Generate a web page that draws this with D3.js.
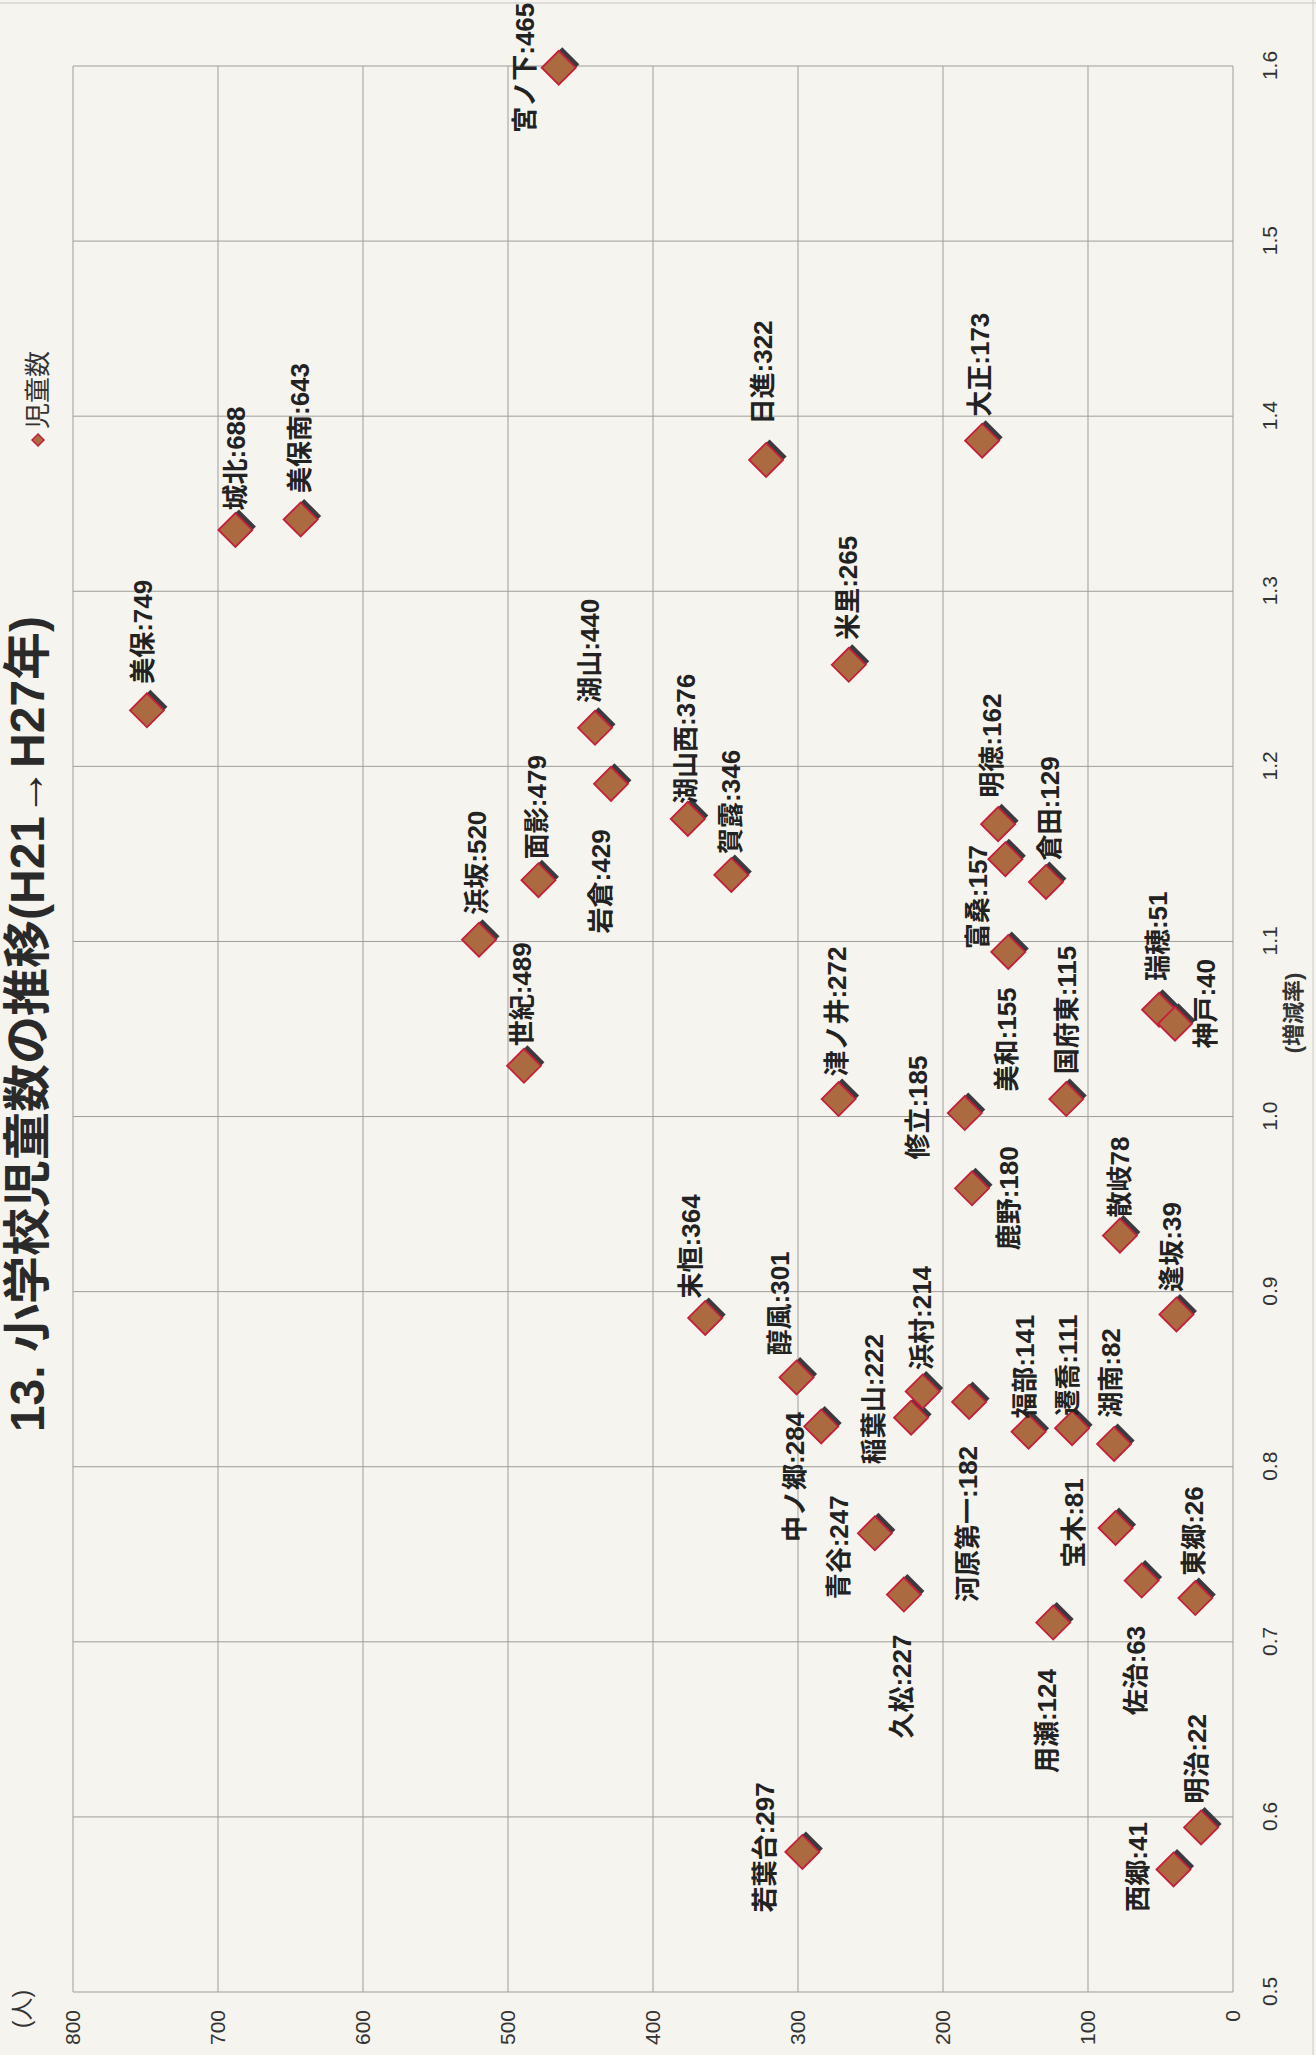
<!DOCTYPE html>
<html>
<head>
<meta charset="utf-8">
<script src="https://cdn.jsdelivr.net/npm/d3@7"></script>
<style>
  html, body { margin: 0; padding: 0; background: #f6f4ee; }
  svg { display: block; }
</style>
</head>
<body>
<svg id="chart" width="1316" height="2055"></svg>
<script>
// ---------------- data ----------------
const schools = ["宮ノ下","美保","城北","美保南","日進","大正","米里","湖山","岩倉","湖山西","賀露","浜坂","面影","世紀","明徳","富桑","倉田","美和","国府東","瑞穂","神戸","津ノ井","修立","鹿野","末恒","散岐","逢坂","醇風","中ノ郷","稲葉山","浜村","河原第一","福部","遷喬","湖南","青谷","久松","宝木","佐治","東郷","用瀬","若葉台","西郷","明治"];
const children = [465,749,688,643,322,173,265,440,429,376,346,520,479,489,162,157,129,155,115,51,40,272,185,180,364,78,39,301,284,222,214,182,141,111,82,247,227,81,63,26,124,297,41,22];
const growthRate = [1.599,1.232,1.335,1.341,1.375,1.386,1.258,1.222,1.190,1.170,1.138,1.101,1.135,1.029,1.167,1.147,1.134,1.094,1.010,1.061,1.053,1.010,1.002,0.959,0.885,0.932,0.887,0.851,0.823,0.828,0.843,0.837,0.820,0.822,0.813,0.762,0.727,0.765,0.735,0.725,0.711,0.580,0.570,0.594];
const rateTicks = [0.5,0.6,0.7,0.8,0.9,1.0,1.1,1.2,1.3,1.4,1.5,1.6];
const countTicks = [0,100,200,300,400,500,600,700,800];
const titleText = "13. 小学校児童数の推移(H21→H27年)";
const seriesName = "児童数";
const xAxisTitle = "(増減率)";
const yAxisTitle = "(人)";

// ---------------- layout (label nudges, px, in chart frame) ----------------
const labelNudge = [[0,-34],[78.5,-4],[71.5,0],[91.5,-1],[87.5,-3],[76,-3],[77,-1],[77,-5],[-97.5,-10],[80,-2],[73,-1],[77,-2],[73,-2],[71.5,-2],[78.5,-6],[-38,-27.5],[73.5,4],[-87.5,-2],[89,0],[73.5,-1],[20,30.5],[87.5,-2],[5.5,-47],[-10,36.5],[71.5,-14.5],[58.5,0],[67.5,-4.5],[74,-17],[-50.5,-26.5],[18.6,-37.5],[73.5,-1.5],[-122,-1],[65,-4],[63,-4.5],[71,-3],[-14,-36],[-92,-2],[5,-42],[-90,-6.5],[67,-2],[-98.5,-7],[4.5,-37.5],[2.5,-36],[68.5,-4.5]];

const data = schools.map((s, i) => ({
  name: s,
  count: children[i],
  rate: growthRate[i],
  label: s + (s === "散岐" ? "" : ":") + children[i],
  nudge: labelNudge[i]
}));

// ---------------- drawing ----------------
const W = 1316, H = 2055;
const svg = d3.select("#chart")
  .style("font-family", "'Liberation Sans', 'Noto Sans CJK JP', sans-serif");

svg.append("rect").attr("width", W).attr("height", H).attr("fill", "#f6f4ee");
// scan edges
svg.append("line").attr("x1", 0).attr("x2", W).attr("y1", 3).attr("y2", 3).attr("stroke", "#c8c6c0").attr("stroke-width", 1);
svg.append("line").attr("x1", 1313).attr("x2", 1313).attr("y1", 0).attr("y2", H).attr("stroke", "#cfcdc7").attr("stroke-width", 1);

// whole chart is drawn in its own frame, then turned a quarter turn counter-clockwise
const g = svg.append("g").attr("transform", `translate(0,${H}) rotate(-90)`);

const x = d3.scaleLinear().domain([0.5, 1.6]).range([63, 1989]);
const y = d3.scaleLinear().domain([0, 800]).range([1233, 73]);

const gridColor = "#9d9d9d";
// grid
g.append("g").selectAll("line").data(rateTicks).join("line")
  .attr("x1", d => x(d)).attr("x2", d => x(d))
  .attr("y1", y(800)).attr("y2", y(0))
  .attr("stroke", gridColor).attr("stroke-width", 1);
g.append("g").selectAll("line").data(countTicks).join("line")
  .attr("x1", x(0.5)).attr("x2", x(1.6))
  .attr("y1", d => y(d)).attr("y2", d => y(d))
  .attr("stroke", gridColor).attr("stroke-width", 1);

// axes
const xAxis = g.append("g").attr("transform", `translate(0,${y(0)})`)
  .call(d3.axisBottom(x).tickValues(rateTicks).tickFormat(d3.format(".1f")).tickSize(0).tickPadding(29));
const yAxis = g.append("g").attr("transform", `translate(${x(0.5)},0)`)
  .call(d3.axisLeft(y).tickValues(countTicks).tickFormat(d3.format("d")).tickSize(0).tickPadding(18));
[xAxis, yAxis].forEach(a => {
  a.select(".domain").remove();
  a.selectAll("text")
    .attr("fill", "#333")
    .style("font-size", "21px")
    .style("font-family", "'Liberation Sans', sans-serif");
});

// axis titles
g.append("text").attr("x", 1042).attr("y", 1301)
  .attr("text-anchor", "middle").attr("fill", "#333")
  .style("font-size", "22px").style("font-weight", "bold")
  .text(xAxisTitle);
g.append("text").attr("x", 46).attr("y", 30)
  .attr("text-anchor", "middle").attr("fill", "#333")
  .style("font-size", "23px")
  .text(yAxisTitle);

// title
g.append("text").attr("x", 1031).attr("y", 44)
  .attr("text-anchor", "middle").attr("fill", "#2a2a2a")
  .style("font-size", "48px").style("font-weight", "bold")
  .text(titleText);

// legend
const diamondPath = (r) => `M0,${-r}L${r},0L0,${r}L${-r},0Z`;
const leg = g.append("g").attr("transform", "translate(1615,38)");
leg.append("path").attr("d", diamondPath(6)).attr("fill", "#ac6a40").attr("stroke", "#c41f3b").attr("stroke-width", 1.5);
leg.append("text").attr("x", 11).attr("y", 0).attr("dy", "0.35em")
  .attr("fill", "#333").style("font-size", "26px").text(seriesName);

// markers
const r = 17, k = 3.5;
const pts = g.append("g").selectAll("g").data(data).join("g")
  .attr("transform", d => `translate(${x(d.rate)},${y(d.count)})`);
pts.append("path").attr("d", diamondPath(r))
  .attr("transform", `translate(${k},${k})`)
  .attr("fill", "#3b3b3f");
pts.append("path").attr("d", diamondPath(r))
  .attr("fill", "#ac6a40").attr("stroke", "#c41f3b").attr("stroke-width", 1.8);

// labels
g.append("g").selectAll("text").data(data).join("text")
  .attr("x", d => x(d.rate) + d.nudge[0])
  .attr("y", d => y(d.count) + d.nudge[1])
  .attr("dy", "0.36em")
  .attr("text-anchor", "middle")
  .attr("fill", "#222")
  .style("font-size", "26px").style("font-weight", "bold")
  .text(d => d.label);
</script>
</body>
</html>
